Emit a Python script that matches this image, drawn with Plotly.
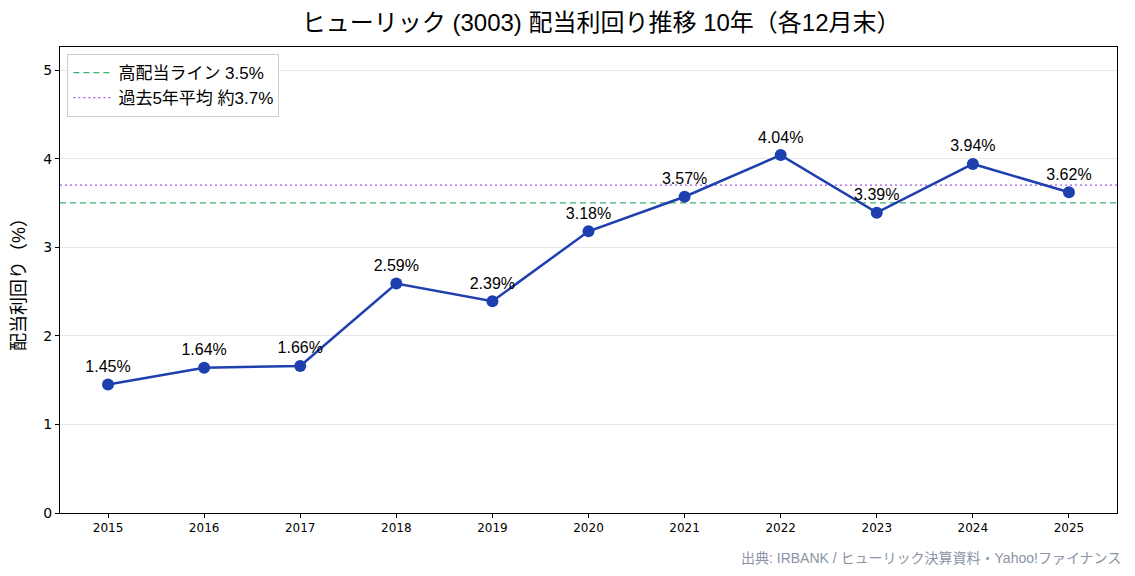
import plotly.graph_objects as go

years = [2015, 2016, 2017, 2018, 2019, 2020, 2021, 2022, 2023, 2024, 2025]
yields = [1.45, 1.64, 1.66, 2.59, 2.39, 3.18, 3.57, 4.04, 3.39, 3.94, 3.62]
high_line = 3.5
avg5 = 3.7
title = "ヒューリック (3003) 配当利回り推移 10年（各12月末）"
source = "出典: IRBANK / ヒューリック決算資料・Yahoo!ファイナンス"

FONT = "Liberation Sans, Noto Sans CJK JP"
TICKFONT = "DejaVu Sans"
fig = go.Figure()

fig.add_trace(go.Scatter(
    x=[2014.5, 2025.5], y=[high_line, high_line], mode="lines",
    line=dict(color="#3cb371", width=1.3, dash="6px,4px"),
    name="高配当ライン 3.5%", hoverinfo="skip"))
fig.add_trace(go.Scatter(
    x=[2014.5, 2025.5], y=[avg5, avg5], mode="lines",
    line=dict(color="#9b5de5", width=1.3, dash="2px,3px"),
    name="過去5年平均 約3.7%", hoverinfo="skip"))
fig.add_trace(go.Scatter(
    x=years, y=yields, mode="lines+markers+text",
    line=dict(color="#1e3fae", width=2.5),
    marker=dict(color="#1e3fae", size=12),
    text=[f"{v:.2f}%" for v in yields], textposition="top center",
    textfont=dict(size=16, color="black", family=FONT),
    showlegend=False))

fig.update_layout(
    width=1135, height=576,
    margin=dict(l=60, r=18, t=47, b=63),
    paper_bgcolor="white", plot_bgcolor="white",
    font=dict(family=FONT, color="black"),
    title=dict(text=title, xref="paper", x=0.512, xanchor="center", y=0.975, yanchor="top",
               font=dict(size=24, family=FONT, color="black")),
    legend=dict(x=0.007, y=0.985, xanchor="left", yanchor="top",
                bgcolor="white", bordercolor="#cccccc", borderwidth=1,
                itemwidth=40, tracegroupgap=2,
                font=dict(size=17, family=FONT)),
    xaxis=dict(range=[2014.5, 2025.5], tickmode="array", tickvals=years,
               ticktext=[str(y) for y in years], showgrid=False,
               showline=True, linecolor="black", linewidth=1, mirror=True,
               ticks="outside", ticklen=4, tickcolor="black",
               tickfont=dict(size=12, family=TICKFONT), zeroline=False),
    yaxis=dict(range=[0, 5.26], tickvals=[0, 1, 2, 3, 4, 5],
               showgrid=True, gridcolor="#e6e6e6", gridwidth=1,
               showline=True, linecolor="black", linewidth=1, mirror=True,
               ticks="outside", ticklen=4, tickcolor="black",
               tickfont=dict(size=14, family=TICKFONT), zeroline=False,
               title=dict(text="配当利回り（%）", font=dict(size=18, family=FONT), standoff=12)),
    annotations=[dict(text=source, xref="paper", yref="paper", x=1.006, y=-0.075,
                      xanchor="right", yanchor="top", showarrow=False,
                      font=dict(size=14, color="#8a94a6", family=FONT))],
)

fig.write_html("out.html")
